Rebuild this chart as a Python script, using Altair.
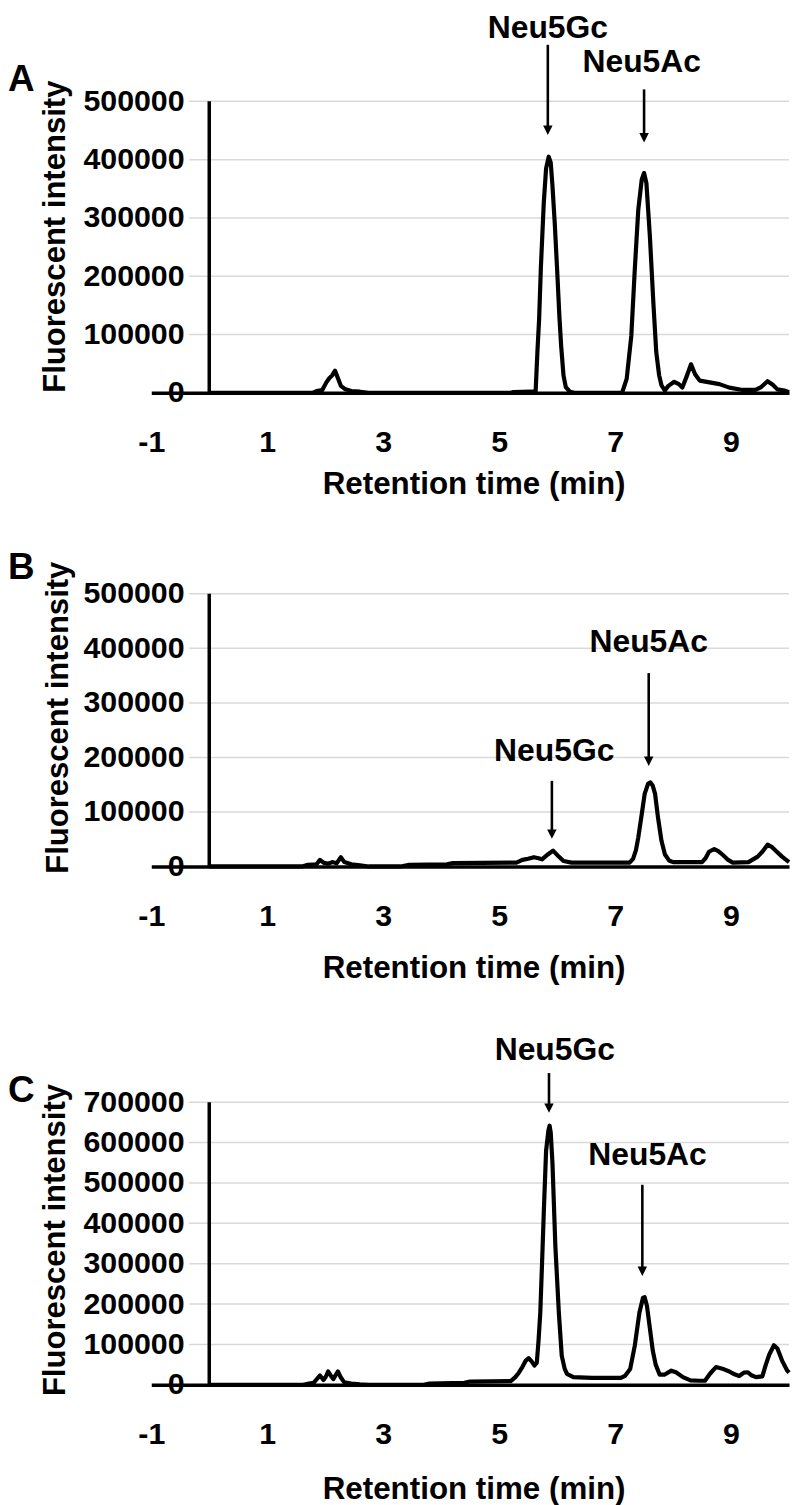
import altair as alt
import pandas as pd

FONT = "Liberation Sans"

# ---------------- data ----------------
x_ticks = [-1, 1, 3, 5, 7, 9]

# Panel A (retention time, fluorescent intensity)
a_points = [
    (0, 0), (1.78, 0), (1.85, 3000), (1.95, 5000), (2.02, 18000), (2.07, 25000),
    (2.12, 30000), (2.17, 38000), (2.22, 25000), (2.27, 12000), (2.35, 6000),
    (2.45, 3000), (2.6, 2000), (2.75, 0),
    (5.2, 0), (5.25, 1500), (5.55, 2000), (5.63, 3000), (5.66, 70000), (5.69, 127000),
    (5.72, 215000), (5.77, 326000), (5.81, 385000), (5.855, 405000), (5.89, 395000),
    (5.92, 355000), (5.96, 290000), (6.0, 212000), (6.04, 130000), (6.07, 80000),
    (6.11, 30000), (6.15, 10000), (6.22, 2000), (6.3, 0),
    (7.12, 0), (7.2, 24000), (7.28, 98000), (7.34, 212000), (7.40, 314000),
    (7.46, 366000), (7.50, 377000), (7.54, 360000), (7.60, 269000), (7.66, 155000),
    (7.71, 70000), (7.76, 30000), (7.80, 13000), (7.86, 4000), (7.92, 12000),
    (8.02, 19000), (8.1, 15000), (8.16, 9000), (8.23, 27000), (8.31, 49000),
    (8.38, 32000), (8.46, 21000), (8.63, 18000), (8.8, 15000), (8.97, 9000),
    (9.2, 5000), (9.42, 5000), (9.52, 10000), (9.63, 20000), (9.72, 14000),
    (9.8, 6000), (9.92, 4000), (10.0, 1000),
]

# Panel B
b_points = [
    (0, 0), (1.6, 0), (1.7, 3000), (1.85, 4000), (1.91, 12000), (1.97, 7000),
    (2.05, 5000), (2.12, 8000), (2.2, 6000), (2.27, 17000), (2.33, 8000),
    (2.45, 4000), (2.6, 2000), (2.75, 0), (3.3, 0), (3.45, 3000), (4.1, 4000),
    (4.2, 6000), (5.3, 7000), (5.4, 12000), (5.5, 14000), (5.6, 17000),
    (5.68, 15000), (5.74, 13000), (5.84, 22000), (5.93, 29000), (6.02, 19000),
    (6.11, 10000), (6.25, 7000), (7.25, 7000), (7.31, 14000), (7.36, 30000),
    (7.40, 53000), (7.46, 96000), (7.51, 133000), (7.57, 152000), (7.61, 154000),
    (7.65, 148000), (7.69, 133000), (7.74, 90000), (7.8, 47000), (7.86, 22000),
    (7.93, 11000), (8.0, 8000), (8.5, 8000), (8.56, 15000), (8.62, 27000),
    (8.71, 32000), (8.78, 28000), (8.86, 21000), (8.95, 12000), (9.03, 7000),
    (9.3, 8000), (9.38, 13000), (9.46, 18000), (9.54, 27000), (9.63, 40000),
    (9.70, 36000), (9.78, 28000), (9.88, 18000), (10.0, 8000),
]

# Panel C
c_points = [
    (0, 0), (1.62, 0), (1.72, 3000), (1.8, 5000), (1.86, 15000), (1.91, 23000),
    (1.97, 12000), (2.01, 20000), (2.05, 33000), (2.1, 22000), (2.14, 14000),
    (2.18, 24000), (2.22, 33000), (2.27, 18000), (2.33, 6000), (2.45, 3000),
    (2.6, 1000), (2.75, 0), (3.7, 0), (3.8, 3000), (4.4, 5000), (4.5, 8000),
    (5.2, 9000), (5.28, 19000), (5.34, 30000), (5.4, 44000), (5.46, 60000),
    (5.51, 66000), (5.56, 58000), (5.61, 48000), (5.65, 55000), (5.68, 110000),
    (5.71, 179000), (5.74, 300000), (5.77, 426000), (5.81, 580000), (5.85, 630000),
    (5.87, 642000), (5.89, 625000), (5.92, 549000), (5.97, 343000), (6.03, 179000),
    (6.08, 72000), (6.13, 40000), (6.17, 27000), (6.28, 19000), (6.6, 17000),
    (7.1, 17000), (7.17, 22000), (7.26, 39000), (7.34, 97000), (7.42, 179000),
    (7.48, 215000), (7.51, 217000), (7.55, 195000), (7.6, 140000), (7.65, 85000),
    (7.7, 50000), (7.77, 25000), (7.85, 25000), (7.97, 35000), (8.05, 31000),
    (8.17, 19000), (8.3, 11000), (8.45, 10000), (8.55, 10000), (8.64, 28000),
    (8.74, 44000), (8.85, 40000), (8.97, 33000), (9.06, 26000), (9.14, 22000),
    (9.22, 30000), (9.29, 31000), (9.36, 23000), (9.43, 19000), (9.54, 21000),
    (9.6, 50000), (9.66, 75000), (9.74, 98000), (9.8, 90000), (9.88, 60000),
    (9.97, 35000), (10.0, 30000),
]

peak_names = ["Neu5Gc", "Neu5Ac"]

# annotation anchors (data coordinates): label x/y, arrow x, arrow top, arrow tip
a_label_x = [5.84, 7.46]
a_label_y = [609200, 551200]
a_arrow_x = [5.84, 7.50]
a_arrow_top = [597000, 520500]
a_arrow_tip = [442500, 429500]

b_label_x = [5.95, 7.58]
b_label_y = [193500, 394200]
b_arrow_x = [5.91, 7.58]
b_arrow_top = [157000, 354600]
b_arrow_tip = [50600, 184300]

c_label_x = [5.96, 7.56]
c_label_y = [803600, 544800]
c_arrow_x = [5.86, 7.47]
c_arrow_top = [772300, 495500]
c_arrow_tip = [673700, 269400]

a_y_ticks = [0, 100000, 200000, 300000, 400000, 500000]
b_y_ticks = [0, 100000, 200000, 300000, 400000, 500000]
c_y_ticks = [0, 100000, 200000, 300000, 400000, 500000, 600000, 700000]

W = 641


def panel(points, y_ticks, height, letter, letter_y, ytitle_x, ytitle_y, xtitle_y,
          lab_x, lab_y, arr_x, arr_top, arr_tip):
    ymax = y_ticks[-1]
    xs = alt.Scale(domain=[-1, 10], nice=False, zero=False)
    ys = alt.Scale(domain=[0, ymax], nice=False, zero=False)
    xaxis = alt.Axis(
        values=x_ticks, labelExpr="datum.value + ''", grid=False, ticks=False,
        tickSize=0, domain=True, domainColor="black", domainWidth=3.5,
        labelFlush=False, labelOverlap=False, labelPadding=35,
        labelFont=FONT, labelFontSize=30.5, labelFontWeight="bold", labelColor="black",
        titleFont=FONT, titleFontSize=31.5, titleFontWeight="bold", titleColor="black",
        titleX=324, titleY=xtitle_y, titleAlign="center", titleBaseline="alphabetic",
    )
    yaxis = alt.Axis(
        values=y_ticks, labelExpr="datum.value + ''", grid=False, ticks=False,
        tickSize=0, domain=False, labelOverlap=False, labelPadding=-33,
        labelAlign="right", labelBaseline="middle",
        labelFont=FONT, labelFontSize=30.5, labelFontWeight="bold", labelColor="black",
        titleFont=FONT, titleFontSize=31.2, titleFontWeight="bold", titleColor="black",
        titleAngle=270, titleX=ytitle_x, titleY=ytitle_y, titleAlign="center",
        titleBaseline="middle",
    )

    def X(f):
        return alt.X(f"{f}:Q", scale=xs, axis=xaxis, title="Retention time (min)")

    def Y(f):
        return alt.Y(f"{f}:Q", scale=ys, axis=yaxis, title="Fluorescent intensity")

    trace_df = pd.DataFrame(points, columns=["t", "v"])
    grid_df = pd.DataFrame({"v": y_ticks[1:]})
    yline_df = pd.DataFrame({"t": [0], "v": [0], "v2": [ymax]})
    ann_df = pd.DataFrame({
        "label": peak_names, "tx": lab_x, "ty": lab_y,
        "ax": arr_x, "atop": arr_top, "atip": arr_tip,
    })
    letter_df = pd.DataFrame({"s": [letter]})

    grid = alt.Chart(grid_df).mark_rule(color="#d9d9d9", strokeWidth=1.5).encode(
        x=alt.value(38), x2=alt.value(W), y=Y("v"))
    yrule = alt.Chart(yline_df).mark_rule(color="black", strokeWidth=3.5).encode(
        x=X("t"), y=Y("v"), y2="v2")
    trace = alt.Chart(trace_df).mark_line(
        color="black", strokeWidth=4.2, strokeJoin="round").encode(x=X("t"), y=Y("v"))
    shafts = alt.Chart(ann_df).mark_rule(
        color="black", strokeWidth=2.6, y2Offset=-5).encode(
        x=X("ax"), y=Y("atop"), y2="atip")
    heads = alt.Chart(ann_df).mark_point(
        shape="M-1,-2L1,-2L0,0Z", size=90, filled=True, color="black", opacity=1).encode(
        x=X("ax"), y=Y("atip"))
    labels = alt.Chart(ann_df).mark_text(
        font=FONT, fontSize=32, fontWeight="bold", color="black",
        align="center", baseline="alphabetic").encode(
        x=X("tx"), y=Y("ty"), text="label:N")
    letter_mark = alt.Chart(letter_df).mark_text(
        font=FONT, fontSize=37, fontWeight="bold", color="black",
        align="left", baseline="alphabetic").encode(
        x=alt.value(-144), y=alt.value(letter_y), text="s:N")

    return alt.layer(grid, yrule, trace, shafts, heads, labels, letter_mark).properties(
        width=W, height=height)


pA = panel(a_points, a_y_ticks, 293, "A", -10, -96, 135.5, 101,
           a_label_x, a_label_y, a_arrow_x, a_arrow_top, a_arrow_tip)
pB = panel(b_points, b_y_ticks, 274, "B", -15, -93, 124, 112,
           b_label_x, b_label_y, b_arrow_x, b_arrow_top, b_arrow_tip)
pC = panel(c_points, c_y_ticks, 284, "C", 0, -96, 138, 114,
           c_label_x, c_label_y, c_arrow_x, c_arrow_top, c_arrow_tip)

chart = alt.vconcat(pA, pB, pC, spacing=49).properties(
    padding=0, background="white").configure_view(strokeWidth=0)

chart.save("out.html", embed_options={"renderer": "svg", "actions": False})
